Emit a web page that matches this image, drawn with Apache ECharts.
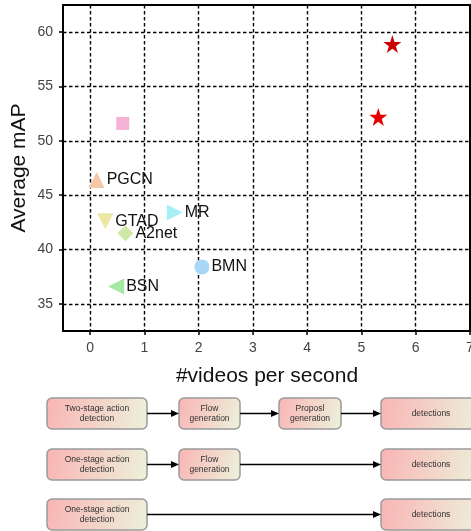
<!DOCTYPE html>
<html><head><meta charset="utf-8">
<script src="https://cdn.jsdelivr.net/npm/echarts@6/dist/echarts.min.js"></script>
<style>html,body{margin:0;padding:0;background:#fff}#c{width:471px;height:531px}</style>
</head><body><div id="c"></div>
<script>
const names = ['', '', '', 'PGCN', 'GTAD', 'A2net', 'MR', 'BMN', 'BSN'];
const fps   = [5.57, 5.31, 0.60, 0.12, 0.28, 0.65, 1.56, 2.06, 0.48];
const mAP   = [58.9, 52.2, 51.6, 46.4, 42.6, 41.5, 43.4, 38.4, 36.6];
const xTicks = [0, 1, 2, 3, 4, 5, 6, 7];
const yTicks = [35, 40, 45, 50, 55, 60];

const star = 'path://M50,0 L61.8,35.4 L99,35.4 L69,57.3 L80.3,92.7 L50,70.8 L19.7,92.7 L31,57.3 L1,35.4 L38.2,35.4 Z';
const symbols = [star, star, 'rect', 'triangle', 'triangle', 'diamond', 'triangle', 'circle', 'triangle'];
const rotates = [0, 0, 0, 0, 180, 0, -90, 0, 90];
const sizes = [18, 18, 13, 16, 16, 16, 16, 15, 16];
const colors = ['#c80000', '#e60000', '#f7b2d8', '#f5c8a8', '#ece7a2', '#cfe8a6', '#a8f0f6', '#a9d7f6', '#a6e9a6'];

const chart = echarts.init(document.getElementById('c'), null, {renderer: 'canvas'});

const data = fps.map((x, i) => ({
  value: [x, mAP[i]],
  name: names[i],
  symbol: symbols[i],
  symbolRotate: rotates[i],
  symbolSize: sizes[i],
  itemStyle: {color: colors[i]},
  label: {show: names[i] !== ''}
}));

function box(x, y, w, h, text) {
  return {
    type: 'rect',
    shape: {x: x, y: y, width: w, height: h, r: 5},
    style: {
      fill: new echarts.graphic.LinearGradient(0, 0, 1, 0.6, [
        {offset: 0, color: '#f9b4b4'},
        {offset: 1, color: '#edf0da'}
      ]),
      stroke: '#9a9a9a', lineWidth: 1.5
    },
    textContent: {style: {text: text, fontSize: 8.5, fill: '#333', align: 'center', lineHeight: 10, fontFamily: 'Liberation Sans'}},
    textConfig: {position: 'inside'}
  };
}
function arrow(x1, x2, y) {
  return [
    {type: 'line', shape: {x1: x1, y1: y, x2: x2 - 6, y2: y}, style: {stroke: '#000', lineWidth: 1.5}},
    {type: 'polygon', shape: {points: [[x2 - 8, y - 3.5], [x2, y], [x2 - 8, y + 3.5]]}, style: {fill: '#000'}}
  ];
}

const rows = [398, 449, 499];
const bh = 31;
let graphics = [];
graphics.push(box(47, rows[0], 100, bh, 'Two-stage action\ndetection'));
graphics.push(box(179, rows[0], 61, bh, 'Flow\ngeneration'));
graphics.push(box(279, rows[0], 62, bh, 'Proposl\ngeneration'));
graphics.push(box(381, rows[0], 100, bh, 'detections'));
graphics = graphics.concat(arrow(147, 179, rows[0] + 15.5), arrow(240, 279, rows[0] + 15.5), arrow(341, 381, rows[0] + 15.5));
graphics.push(box(47, rows[1], 100, bh, 'One-stage action\ndetection'));
graphics.push(box(179, rows[1], 61, bh, 'Flow\ngeneration'));
graphics.push(box(381, rows[1], 100, bh, 'detections'));
graphics = graphics.concat(arrow(147, 179, rows[1] + 15.5), arrow(240, 381, rows[1] + 15.5));
graphics.push(box(47, rows[2], 100, bh, 'One-stage action\ndetection'));
graphics.push(box(381, rows[2], 100, bh, 'detections'));
graphics = graphics.concat(arrow(147, 381, rows[2] + 15.5));
graphics.push({type: 'text', x: 267, y: 376, style: {text: '#videos per second', fontSize: 21, fill: '#111', align: 'center', verticalAlign: 'middle', fontFamily: 'Liberation Sans'}});

const dashed = {show: true, lineStyle: {color: '#000', type: [3.5, 2.5], width: 1.4}};

chart.setOption({
  animation: false,
  textStyle: {fontFamily: 'Liberation Sans'},
  grid: {left: 63, top: 5, width: 407, height: 326, show: true, borderColor: '#000', borderWidth: 2,
         containLabel: false, outerBoundsMode: 'none'},
  xAxis: {
    type: 'value', min: -0.5, max: 7,
    axisLine: {show: true, onZero: false, lineStyle: {color: '#000', width: 2}},
    axisTick: {show: true, customValues: xTicks, length: 4, lineStyle: {color: '#000', width: 1.5}},
    axisLabel: {customValues: xTicks, fontSize: 14, color: '#444', margin: 10},
    splitLine: dashed
  },
  yAxis: {
    type: 'value', min: 32.5, max: 62.5,
    name: 'Average mAP', nameLocation: 'middle', nameGap: 33, nameMoveOverlap: false,
    nameTextStyle: {fontSize: 21, color: '#111'},
    axisLine: {show: true, onZero: false, lineStyle: {color: '#000', width: 2}},
    axisTick: {show: true, customValues: yTicks, length: 4, lineStyle: {color: '#000', width: 1.5}},
    axisLabel: {customValues: yTicks, fontSize: 14, color: '#444', margin: 10},
    splitLine: dashed
  },
  series: [{
    type: 'scatter',
    data: data,
    label: {position: 'right', distance: 2, fontSize: 16, color: '#111', formatter: p => p.name},
    itemStyle: {opacity: 1}
  }],
  graphic: graphics
});
</script></body></html>
